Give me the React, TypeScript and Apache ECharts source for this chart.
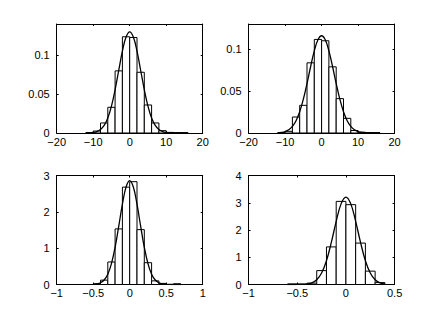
import React, { useEffect, useRef } from "react";
import * as echarts from "echarts";

// ---- Panel 1 (top-left) ----
const p1BinLeft = [-12, -10, -8, -6, -4, -2, 0, 2, 4, 6, 8, 10, 12, 14];
const p1BinHeight = [0.0006, 0.0025, 0.0129, 0.033, 0.0798, 0.1236, 0.1227, 0.078, 0.036, 0.0129, 0.003, 0.0008, 0.0004, 0.0002];
const p1BinWidth = 2;
const p1CurveX = [-12, -11, -10, -9, -8, -7, -6, -5, -4, -3, -2, -1, 0, 1, 2, 3, 4, 5, 6, 7, 8, 9, 10, 11, 12, 13, 14, 15, 16];
const p1CurveY = [0.00006, 0.0002, 0.00065, 0.0018, 0.0044, 0.0097, 0.0193, 0.0345, 0.0556, 0.0806, 0.1051, 0.1233, 0.13, 0.1233, 0.1051, 0.0806, 0.0556, 0.0345, 0.0193, 0.0097, 0.0044, 0.0018, 0.00065, 0.0002, 0.00006, 0.00002, 0.00001, 0, 0];

// ---- Panel 2 (top-right) ----
const p2BinLeft = [-12, -10, -8, -6, -4, -2, 0, 2, 4, 6, 8, 10, 12, 14];
const p2BinHeight = [0.0005, 0.002, 0.0191, 0.033, 0.0837, 0.1116, 0.11, 0.0789, 0.041, 0.0175, 0.003, 0.001, 0.0005, 0.0003];
const p2BinWidth = 2;
const p2CurveX = [-12, -11, -10, -9, -8, -7, -6, -5, -4, -3, -2, -1, 0, 1, 2, 3, 4, 5, 6, 7, 8, 9, 10, 11, 12, 13, 14, 15, 16];
const p2CurveY = [0.00027, 0.0007, 0.0017, 0.0038, 0.0078, 0.0146, 0.0253, 0.0403, 0.059, 0.0793, 0.098, 0.1112, 0.116, 0.1112, 0.098, 0.0793, 0.059, 0.0403, 0.0253, 0.0146, 0.0078, 0.0038, 0.0017, 0.0007, 0.00027, 0.00009, 0.00003, 0.00001, 0];

// ---- Panel 3 (bottom-left) ----
const p3BinLeft = [-0.5, -0.4, -0.3, -0.2, -0.1, 0, 0.1, 0.2, 0.3, 0.4, 0.5, 0.6];
const p3BinHeight = [0.02, 0.12, 0.62, 1.53, 2.68, 2.83, 1.51, 0.6, 0.1, 0.03, 0.0, 0.02];
const p3BinWidth = 0.1;
const p3CurveX = [-0.5, -0.45, -0.4, -0.35, -0.3, -0.25, -0.2, -0.15, -0.1, -0.05, 0, 0.05, 0.1, 0.15, 0.2, 0.25, 0.3, 0.35, 0.4, 0.45, 0.5, 0.55, 0.6, 0.65, 0.7];
const p3CurveY = [0.0046, 0.0157, 0.047, 0.123, 0.283, 0.574, 1.023, 1.604, 2.212, 2.682, 2.86, 2.682, 2.212, 1.604, 1.023, 0.574, 0.283, 0.123, 0.047, 0.0157, 0.0046, 0.0012, 0.0003, 0.0001, 0];

// ---- Panel 4 (bottom-right) ----
const p4BinLeft = [-0.6, -0.5, -0.4, -0.3, -0.2, -0.1, 0, 0.1, 0.2, 0.3];
const p4BinHeight = [0.02, 0.02, 0.05, 0.51, 1.38, 3.05, 2.93, 1.52, 0.49, 0.07];
const p4BinWidth = 0.1;
const p4CurveX = [-0.6, -0.55, -0.5, -0.45, -0.4, -0.35, -0.3, -0.25, -0.2, -0.15, -0.1, -0.05, 0, 0.05, 0.1, 0.15, 0.2, 0.25, 0.3, 0.35, 0.4];
const p4CurveY = [0, 0.0002, 0.001, 0.0045, 0.0177, 0.06, 0.172, 0.42, 0.874, 1.544, 2.319, 2.959, 3.21, 2.959, 2.319, 1.544, 0.874, 0.42, 0.172, 0.06, 0.0177];

// Axis ranges and tick steps
const xRanges = [[-20, 20, 10], [-20, 20, 10], [-1, 1, 0.5], [-1, 0.5, 0.5]];
const yRanges = [[0, 0.14, 0.05], [0, 0.13, 0.05], [0, 3, 1], [0, 4, 1]];

const panels = [
  { binLeft: p1BinLeft, binHeight: p1BinHeight, binWidth: p1BinWidth, cx: p1CurveX, cy: p1CurveY },
  { binLeft: p2BinLeft, binHeight: p2BinHeight, binWidth: p2BinWidth, cx: p2CurveX, cy: p2CurveY },
  { binLeft: p3BinLeft, binHeight: p3BinHeight, binWidth: p3BinWidth, cx: p3CurveX, cy: p3CurveY },
  { binLeft: p4BinLeft, binHeight: p4BinHeight, binWidth: p4BinWidth, cx: p4CurveX, cy: p4CurveY },
];

const fmt = (v: number) => {
  const s = String(Math.round(v * 1e6) / 1e6);
  return s.replace("-", "\u2212");
};

export default function App() {
  const ref = useRef<HTMLDivElement>(null);
  useEffect(() => {
    if (!ref.current) return;
    const chart = echarts.init(ref.current, null, { renderer: "svg" });
    const gridPos = [
      { left: 56.7, top: 24, width: 146, height: 109 },
      { left: 248.6, top: 24, width: 146, height: 109 },
      { left: 56.7, top: 175.5, width: 146, height: 109 },
      { left: 248.6, top: 175.5, width: 146, height: 109 },
    ];
    const font = { fontFamily: "Liberation Sans, Arial, Helvetica, sans-serif", fontSize: 11, color: "#000" };
    const axisLine = { show: true, onZero: false, lineStyle: { color: "#000", width: 1 } };
    const tick = { show: true, inside: true, length: 2, lineStyle: { color: "#000", width: 1 } };
    const xAxis: any[] = [];
    const yAxis: any[] = [];
    const series: any[] = [];
    panels.forEach((p, i) => {
      const [xmin, xmax, xint] = xRanges[i];
      const [ymin, ymax, yint] = yRanges[i];
      const showMaxY = ymax % yint === 0;
      xAxis.push({
        type: "value", gridIndex: i, position: "bottom", min: xmin, max: xmax, interval: xint,
        axisLine, axisTick: tick, splitLine: { show: false },
        axisLabel: { ...font, margin: 3, hideOverlap: false, formatter: fmt },
      });
      xAxis.push({
        type: "value", gridIndex: i, position: "top", min: xmin, max: xmax, interval: xint,
        axisLine, axisTick: tick, splitLine: { show: false }, axisLabel: { show: false },
      });
      yAxis.push({
        type: "value", gridIndex: i, position: "left", min: ymin, max: ymax, interval: yint,
        axisLine, axisTick: tick, splitLine: { show: false },
        axisLabel: { ...font, margin: 7, showMaxLabel: showMaxY, formatter: fmt },
      });
      yAxis.push({
        type: "value", gridIndex: i, position: "right", min: ymin, max: ymax, interval: yint,
        axisLine, axisTick: tick, splitLine: { show: false }, axisLabel: { show: false },
      });
      const barData = p.binLeft.map((l, k) => [l, l + p.binWidth, p.binHeight[k]]);
      series.push({
        type: "custom",
        xAxisIndex: 2 * i,
        yAxisIndex: 2 * i,
        data: barData,
        encode: { x: [0, 1], y: 2 },
        renderItem: (params: any, api: any) => {
          const a = api.coord([api.value(0), api.value(2)]);
          const b = api.coord([api.value(1), 0]);
          return {
            type: "rect",
            shape: { x: a[0], y: a[1], width: b[0] - a[0], height: b[1] - a[1] },
            style: { fill: "#fff", stroke: "#000", lineWidth: 1 },
          };
        },
        z: 2,
      });
      series.push({
        type: "line",
        xAxisIndex: 2 * i,
        yAxisIndex: 2 * i,
        data: p.cx.map((x, k) => [x, p.cy[k]]),
        showSymbol: false,
        symbol: "none",
        smooth: 0.4,
        lineStyle: { color: "#000", width: 1.3 },
        z: 3,
      });
    });
    chart.setOption({
      animation: false,
      backgroundColor: "#fff",
      grid: gridPos.map((g) => ({ ...g, show: false, containLabel: false })),
      xAxis,
      yAxis,
      series,
    });
    return () => chart.dispose();
  }, []);
  return (
    <div
      ref={ref}
      style={{ position: "fixed", left: 0, top: 0, width: 436, height: 320, background: "#fff" }}
    />
  );
}
